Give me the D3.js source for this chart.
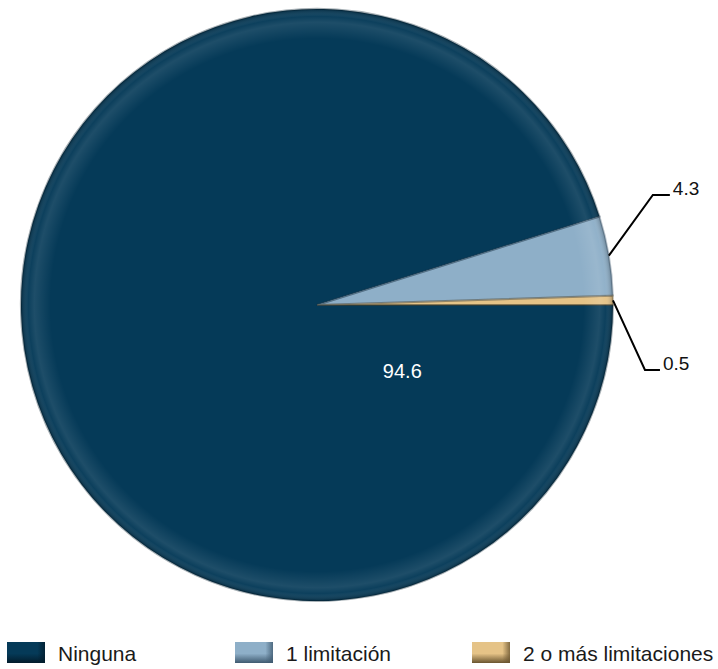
<!DOCTYPE html>
<html>
<head>
<meta charset="utf-8">
<script src="https://cdn.jsdelivr.net/npm/d3@7"></script>
<style>
  body { margin: 0; background: #fff; }
  svg { display: block; font-family: "Liberation Sans", Arial, sans-serif; }
</style>
</head>
<body>
<div id="chart"></div>
<script>
// data
var categorias = ["Ninguna", "1 limitación", "2 o más limitaciones"];
var valores = [94.6, 4.3, 0.5];
var etiquetas = ["94.6", "4.3", "0.5"];

// layout
var width = 718, height = 669;
var cx = 317, cy = 305, radio = 296;
var colores = ["#053a58", "#8eafc8", "#e5c387"];
var oscuros = ["#021c2c", "#3f5a70", "#6a5530"];

var svg = d3.select("#chart")
  .append("svg")
    .attr("width", width)
    .attr("height", height);

var defs = svg.append("defs");

// bevel on the rim
var rim = defs.append("radialGradient")
    .attr("id", "rim")
    .attr("cx", "50%").attr("cy", "50%").attr("r", "50%");
rim.append("stop").attr("offset", "0.90").attr("stop-color", "#fff").attr("stop-opacity", 0);
rim.append("stop").attr("offset", "0.955").attr("stop-color", "#fff").attr("stop-opacity", 0.10);
rim.append("stop").attr("offset", "0.975").attr("stop-color", "#fff").attr("stop-opacity", 0.03);
rim.append("stop").attr("offset", "1").attr("stop-color", "#000").attr("stop-opacity", 0.25);

// swatch gradients
colores.forEach(function(c, i) {
  var g = defs.append("linearGradient")
      .attr("id", "sw" + i)
      .attr("x1", 0).attr("y1", 0).attr("x2", 0).attr("y2", 1);
  g.append("stop").attr("offset", "0").attr("stop-color", c);
  g.append("stop").attr("offset", "0.55").attr("stop-color", c);
  g.append("stop").attr("offset", "1").attr("stop-color", oscuros[i]);
  var h = defs.append("linearGradient")
      .attr("id", "swr" + i)
      .attr("x1", 0).attr("y1", 0).attr("x2", 1).attr("y2", 0);
  h.append("stop").attr("offset", "0.8").attr("stop-color", oscuros[i]).attr("stop-opacity", 0);
  h.append("stop").attr("offset", "1").attr("stop-color", oscuros[i]).attr("stop-opacity", 0.8);
});

var pie = d3.pie()
    .sort(null)
    .startAngle(Math.PI / 2)
    .endAngle(Math.PI / 2 + 2 * Math.PI);

var arcs = pie(valores);

var arc = d3.arc()
    .innerRadius(0)
    .outerRadius(radio);

var g = svg.append("g")
    .attr("transform", "translate(" + cx + "," + cy + ")");

g.selectAll("path.slice")
  .data(arcs)
  .enter()
  .append("path")
    .attr("class", "slice")
    .attr("d", arc)
    .attr("fill", function(d, i) { return colores[i]; });

// soft edge shading on each slice
g.selectAll("path.edge")
  .data(arcs)
  .enter()
  .append("path")
    .attr("class", "edge")
    .attr("d", arc)
    .attr("fill", "none")
    .attr("stroke", function(d, i) { return oscuros[i]; })
    .attr("stroke-opacity", 0.35)
    .attr("stroke-width", 2);

g.append("circle")
    .attr("r", radio)
    .attr("fill", "url(#rim)");

// label inside the big slice
var ang0 = arcs[0].startAngle + 0.66;
var p0 = d3.pointRadial(ang0, 108);
g.append("text")
    .attr("x", p0[0])
    .attr("y", p0[1])
    .attr("text-anchor", "middle")
    .attr("dy", "0.35em")
    .attr("fill", "#fff")
    .style("font-size", "20px")
    .text(etiquetas[0]);

// leader lines for the small slices
var filaY = [null, 195 - cy, 370 - cy];
var codoDx = [null, 44, 32];
var tramo = [null, 17, 15];
[1, 2].forEach(function(i) {
  var a = (arcs[i].startAngle + arcs[i].endAngle) / 2;
  var p = d3.pointRadial(a, radio);
  var codo = [p[0] + codoDx[i], filaY[i]];
  var fin = [codo[0] + tramo[i], filaY[i]];
  g.append("path")
      .attr("d", d3.line()([p, codo, fin]))
      .attr("fill", "none")
      .attr("stroke", "#000")
      .attr("stroke-width", 2);
  g.append("text")
      .attr("x", fin[0] + 3)
      .attr("y", fin[1])
      .attr("fill", "#111")
      .style("font-size", "19px")
      .text(etiquetas[i]);
});

// legend
var legendX = [7, 235, 472];
var leg = svg.selectAll("g.leg")
  .data(categorias)
  .enter()
  .append("g")
    .attr("class", "leg")
    .attr("transform", function(d, i) { return "translate(" + legendX[i] + ",642)"; });

leg.append("rect")
    .attr("width", 38).attr("height", 21)
    .attr("fill", function(d, i) { return "url(#sw" + i + ")"; });
leg.append("rect")
    .attr("width", 38).attr("height", 21)
    .attr("fill", function(d, i) { return "url(#swr" + i + ")"; });

leg.append("text")
    .attr("x", 51)
    .attr("y", 19)
    .attr("fill", "#1a1a1a")
    .style("font-size", "21px")
    .text(function(d) { return d; });
</script>
</body>
</html>
